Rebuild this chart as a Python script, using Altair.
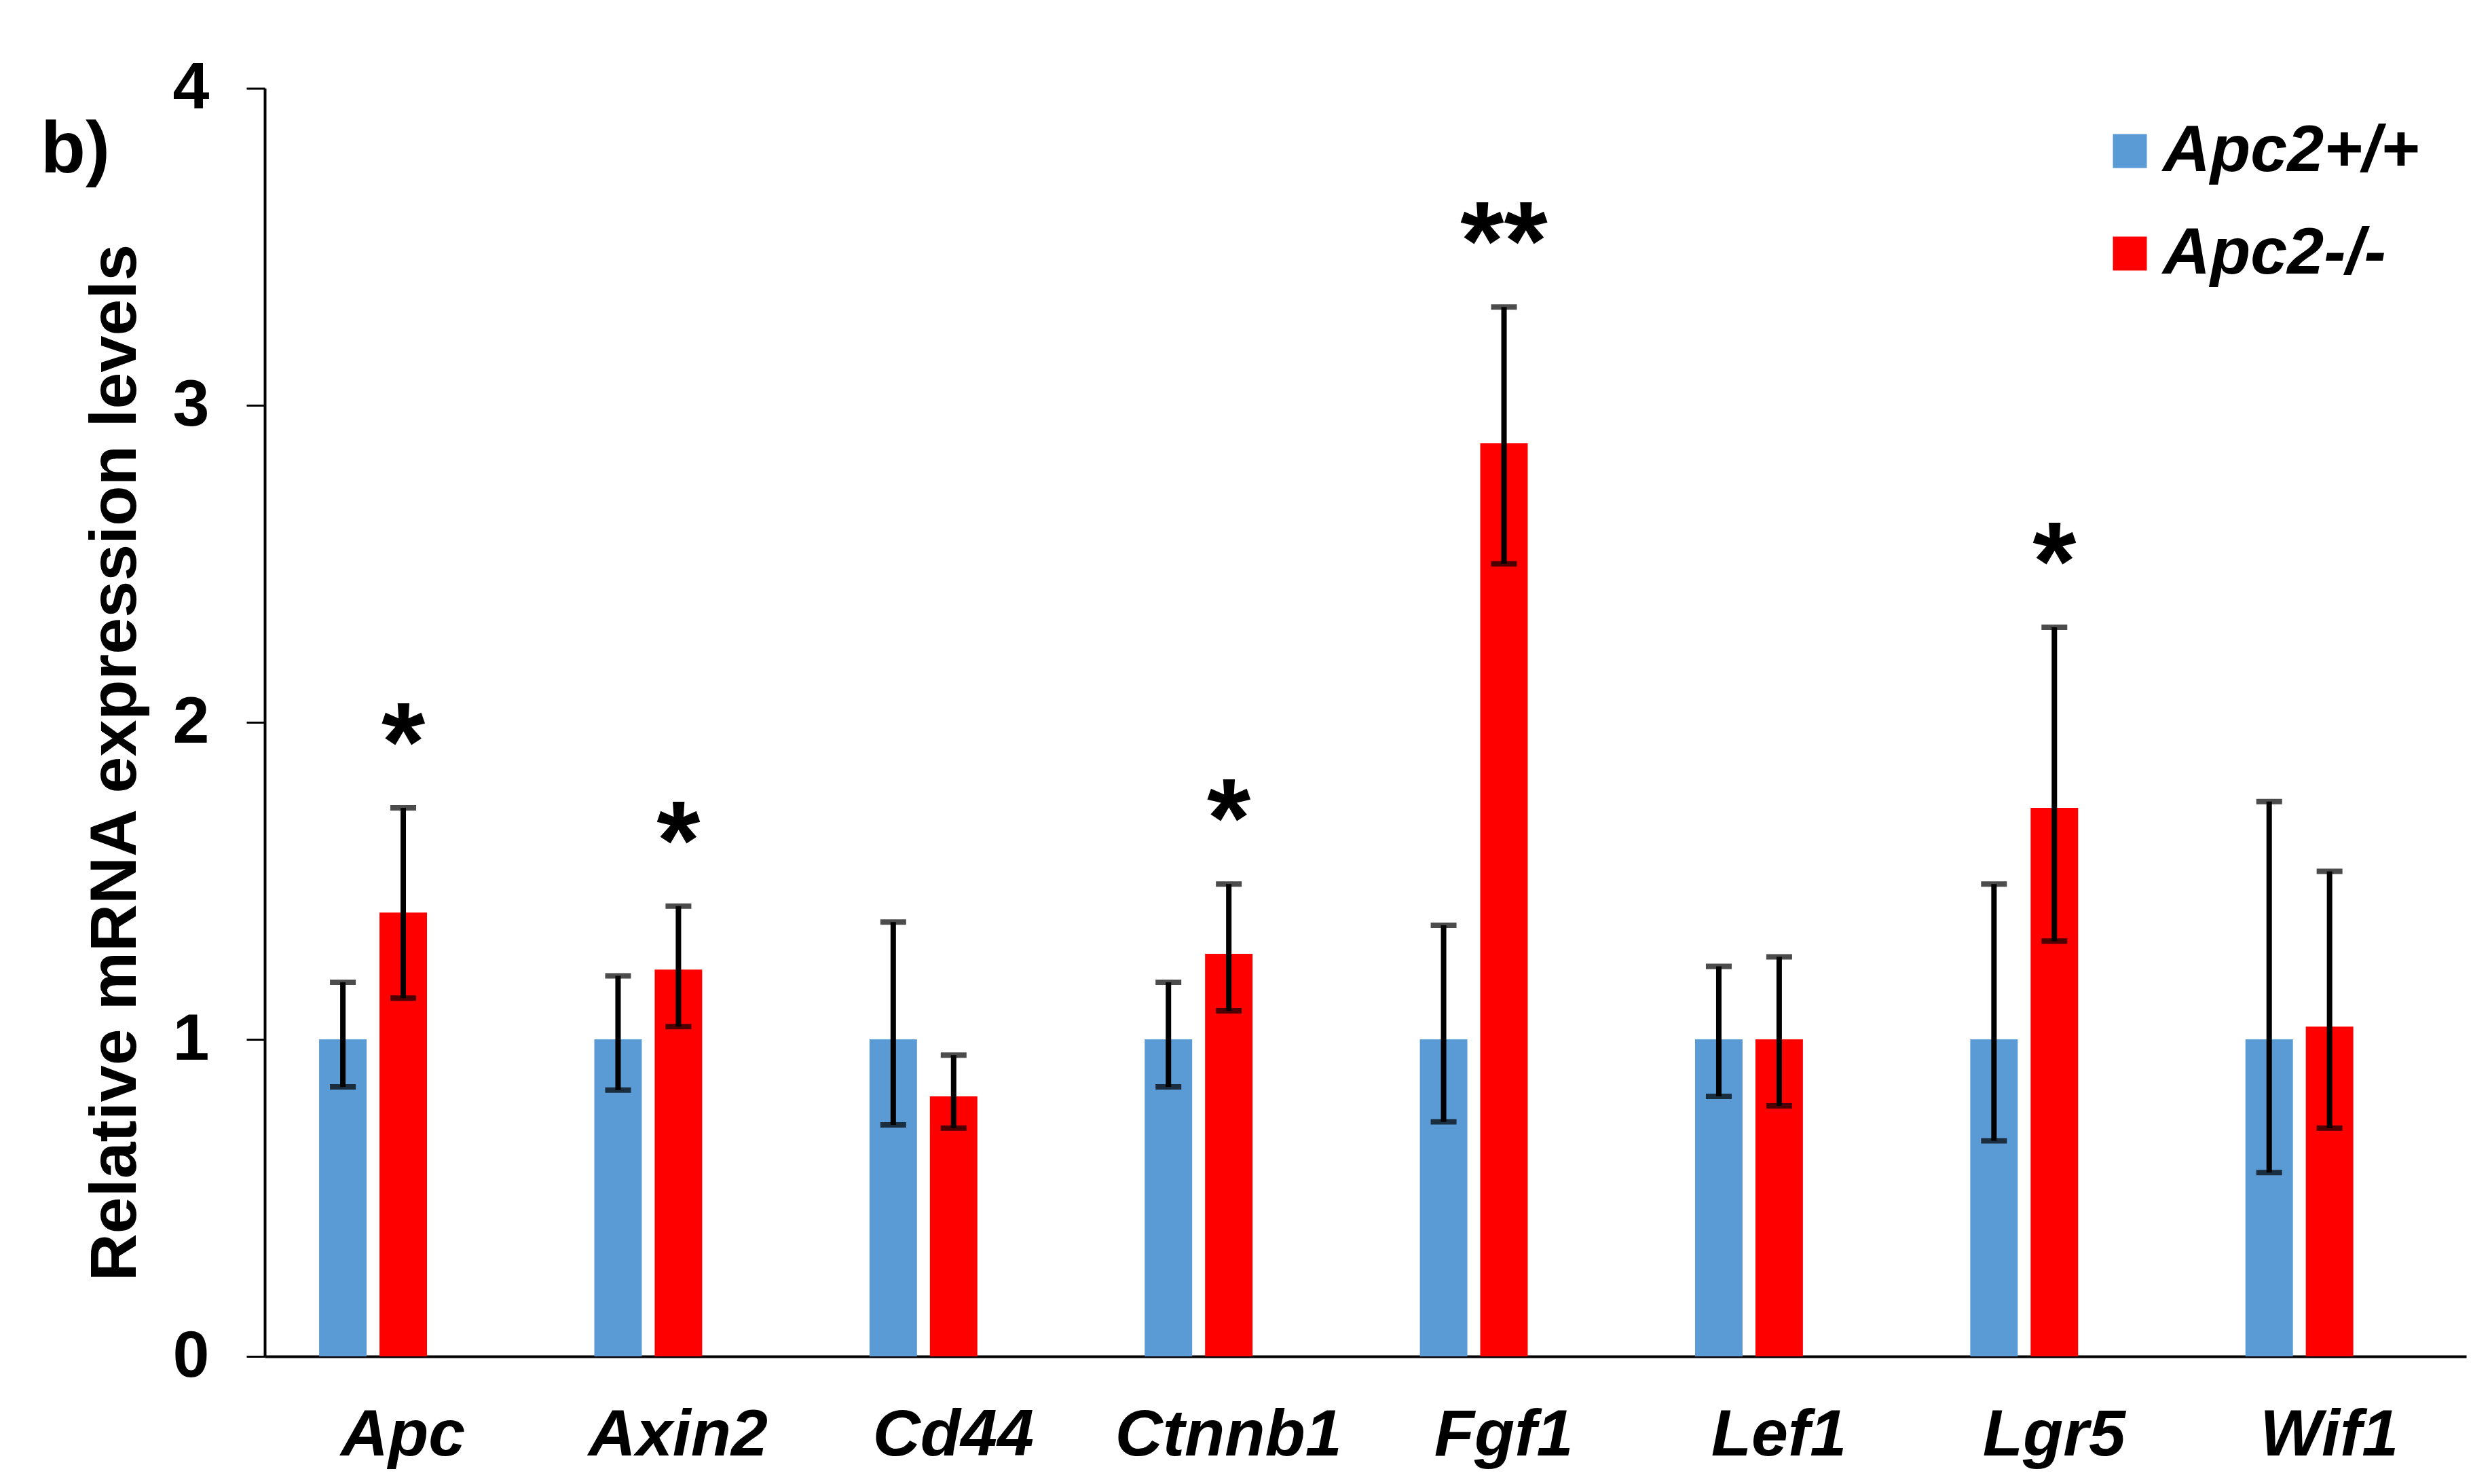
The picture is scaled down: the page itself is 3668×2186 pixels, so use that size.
import altair as alt
import pandas as pd

genes = ["Apc", "Axin2", "Cd44", "Ctnnb1", "Fgf1", "Lef1", "Lgr5", "Wif1"]
groups = ["Apc2+/+", "Apc2-/-"]

wt_mean = [1.00, 1.00, 1.00, 1.00, 1.00, 1.00, 1.00, 1.00]
wt_lo = [0.85, 0.84, 0.73, 0.85, 0.74, 0.82, 0.68, 0.58]
wt_hi = [1.18, 1.20, 1.37, 1.18, 1.36, 1.23, 1.49, 1.75]

ko_mean = [1.40, 1.22, 0.82, 1.27, 2.88, 1.00, 1.73, 1.04]
ko_lo = [1.13, 1.04, 0.72, 1.09, 2.50, 0.79, 1.31, 0.72]
ko_hi = [1.73, 1.42, 0.95, 1.49, 3.31, 1.26, 2.30, 1.53]

stars = ["*", "*", "", "*", "**", "", "*", ""]

rows = []
for i, g in enumerate(genes):
    rows.append(dict(gene=g, group=groups[0], mean=wt_mean[i], lo=wt_lo[i], hi=wt_hi[i], star=""))
    rows.append(dict(gene=g, group=groups[1], mean=ko_mean[i], lo=ko_lo[i], hi=ko_hi[i], star=stars[i]))
df = pd.DataFrame(rows)

FONT = "Liberation Sans"

x_enc = alt.X(
    "gene:N",
    sort=genes,
    scale=alt.Scale(paddingInner=0.608, paddingOuter=0.304, align=0.325),
    axis=alt.Axis(
        title=None, labelAngle=0, ticks=False, domainColor="black", domainWidth=4,
        labelFont=FONT, labelFontSize=97, labelFontWeight="bold", labelFontStyle="italic",
        labelColor="black", labelPadding=68, labelOffset=44, labelLimit=1000,
    ),
)
xoff = alt.XOffset("group:N", sort=groups, scale=alt.Scale(paddingInner=0.2135, paddingOuter=0))

y_enc = alt.Y(
    "mean:Q",
    scale=alt.Scale(domain=[0, 4], nice=False),
    axis=alt.Axis(
        title="Relative mRNA expression levels", values=[0, 1, 2, 3, 4], format="d", grid=False,
        domainColor="black", domainWidth=4, tickColor="black", tickWidth=3, tickSize=27,
        labelFont=FONT, labelFontSize=97, labelFontWeight="bold", labelColor="black",
        labelPadding=55,
        titleFont=FONT, titleFontSize=97, titleFontWeight="bold", titleColor="black",
        titleAngle=-90, titleX=-191, titleY=993, titleAlign="center", titleBaseline="alphabetic",
    ),
)

color = alt.Color(
    "group:N",
    scale=alt.Scale(domain=groups, range=["#5B9BD5", "#FF0000"]),
    legend=alt.Legend(
        title=None, orient="none", legendX=2699, legendY=44, padding=0,
        symbolType="square", symbolSize=2500, symbolStrokeWidth=0, symbolOpacity=1,
        labelFont=FONT, labelFontSize=97, labelFontWeight="bold", labelFontStyle="italic",
        labelColor="black", labelOffset=0, rowPadding=53, labelLimit=1000,
    ),
)

base = alt.Chart(df)

bars = base.mark_bar().encode(x=x_enc, xOffset=xoff, y=y_enc, color=color)

err = base.mark_rule(color="black", strokeWidth=8).encode(
    x=alt.X("gene:N", sort=genes), xOffset=alt.XOffset("group:N", sort=groups),
    y=alt.Y("lo:Q"), y2="hi:Q",
)
cap_hi = base.mark_tick(color="black", size=38, thickness=8, orient="horizontal").encode(
    x=alt.X("gene:N", sort=genes), xOffset=alt.XOffset("group:N", sort=groups), y=alt.Y("hi:Q"),
)
cap_lo = base.mark_tick(color="black", size=38, thickness=8, orient="horizontal").encode(
    x=alt.X("gene:N", sort=genes), xOffset=alt.XOffset("group:N", sort=groups), y=alt.Y("lo:Q"),
)

star_text = base.transform_filter("datum.star != ''").mark_text(
    font=FONT, fontSize=165, fontWeight="bold", color="black", baseline="alphabetic", align="center", dy=-40,
).encode(
    x=alt.X("gene:N", sort=genes), xOffset=alt.XOffset("group:N", sort=groups), y=alt.Y("hi:Q"),
    text="star:N",
)

panel_label = alt.Chart(pd.DataFrame({"t": ["b)"]})).mark_text(
    font=FONT, fontSize=108, fontWeight="bold", color="black", align="left", baseline="alphabetic",
).encode(x=alt.value(-330), y=alt.value(124), text="t:N")

chart = alt.layer(bars, err, cap_hi, cap_lo, star_text, panel_label).properties(
    width=3243, height=1868,
    padding={"left": 382, "top": 122, "right": 27, "bottom": 180},
    autosize=alt.AutoSizeParams(type="none"),
    background="white",
).configure_view(stroke=None)

chart.save("out.html", embed_options={"renderer": "svg", "actions": False})
